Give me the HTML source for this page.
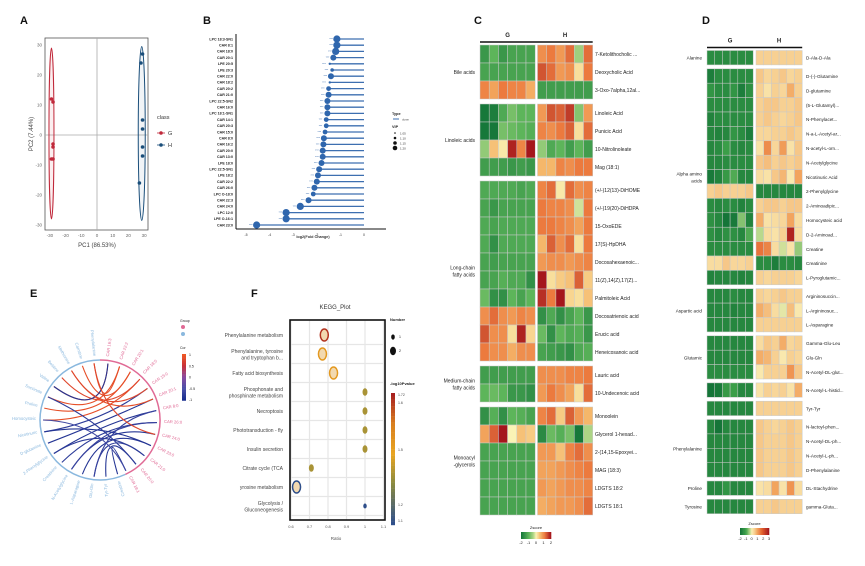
<!DOCTYPE html>
<html><head><meta charset="utf-8">
<style>
html,body{margin:0;padding:0;background:#fff;}
svg{display:block;font-family:"Liberation Sans",Arial,sans-serif;}
</style></head>
<body>
<svg id="fig" width="865" height="566" viewBox="0 0 865 566"></svg>
<script>
// ===== Panel A data =====
const pcaGx=[-29,-28,-28,-28,-29,-28];
const pcaGy=[12,11,-3,-4,-8,-8];
const pcaHx=[29,28,29,29,29,29,27];
const pcaHy=[27,24,5,2,-4,-7,-16];
const pcaTicks=[-30,-20,-10,0,10,20,30];
// ===== Panel B data =====
const fcNames=["LPC 18:3-SN1","CAR 8:1","CAR 18:0","CAR 20:1","LPE 20:5","LPE 20:3","CAR 22:0","CAR 18:2","CAR 20:2","CAR 21:0","LPC 22:5-SN2","CAR 16:0","LPC 18:1-SN1","CAR 14:1","CAR 20:3","CAR 15:0","CAR 8:0","CAR 16:2","CAR 20:0","CAR 13:0","LPE 18:0","LPC 22:5-SN1","LPE 18:2","CAR 22:2","CAR 26:0","LPC O-18:0","CAR 22:3","CAR 24:0","LPC 12:0","LPE O-16:1","CAR 23:0"];
const fcValues=[-1.15,-1.15,-1.2,-1.3,-1.45,-1.35,-1.4,-1.45,-1.5,-1.5,-1.55,-1.55,-1.55,-1.6,-1.6,-1.65,-1.7,-1.72,-1.75,-1.75,-1.8,-1.9,-1.95,-2.0,-2.1,-2.15,-2.35,-2.7,-3.3,-3.3,-4.55];
const fcVip=[1.2,1.2,1.2,1.15,1.0,1.05,1.15,1.0,1.1,1.15,1.15,1.15,1.15,1.1,1.1,1.1,1.15,1.15,1.15,1.15,1.15,1.15,1.15,1.15,1.15,1.1,1.15,1.2,1.2,1.2,1.2];
const fcTicks=[-5,-4,-3,-2,-1,0];
// ===== Panel C data =====
const cGroups=["Bile acids","Linoleic acids","Long-chain\nfatty acids","Medium-chain\nfatty acids","Monoacyl\n-glycerols"];
const cGroupSizes=[3,4,10,2,6];
const cNames=["7-Ketolithocholic ...","Deoxycholic Acid","3-Oxo-7alpha,12al...","Linoleic Acid","Punicic Acid","10-Nitrolinoleate","Mag (18:1)","(+/-)12(13)-DiHOME","(+/-)19(20)-DiHDPA","15-OxoEDE","17(S)-HpDHA","Docosahexaenoic...","11(Z),14(Z),17(Z)...","Palmitoleic Acid","Docosatrienoic acid","Erucic acid","Heneicosanoic acid","Lauric acid","10-Undecenoic acid","Monoolein","Glycerol 1-hexad...","2-(14,15-Epoxyei...","MAG (18:3)","LDGTS 18:2","LDGTS 18:1"];
const cValues=[
[-1.5,-1,-1.5,-1.3,-1.3,-1.3, 1,1.2,0.9,1.3,-0.5,1.3],
[-1.3,-1.3,-1.3,-1.3,-1.3,-1.3, 1.5,1.3,0.9,1,0.2,1.2],
[1.1,0.8,1.2,1.1,1.1,0.7, -1.4,-1.4,-1.4,-1.4,-1.4,-1.4],
[-2,-1.9,-1.2,-0.8,-1,-1, 0.9,1.5,1.4,1.7,-0.7,0.9],
[-2,-2.2,-0.8,-0.9,-1,-1.1, 1.1,1,1.2,1.4,0.2,1.3],
[-0.6,0.5,0.1,1.9,1.1,2.2, -0.6,-1.2,-1,-1.4,-1,-1.4],
[-1.4,-1.4,-1.4,-1.5,-1.4,-1.5, 0.6,0.6,1.1,1,1.2,1.2],
[-1.2,-1.2,-1.2,-1.2,-1.3,-1.2, 1.1,1.3,0.1,1.3,1,1.1],
[-1.3,-1.5,-1.3,-1.3,-1.3,-1.3, 1.2,1.1,1.1,1,-0.2,1.2],
[-1.2,-1.3,-1.2,-1.2,-1.2,-1.2, 1.2,1.2,1.1,1,0.8,1.2],
[-1.2,-1.6,-1.2,-1.2,-1.2,-1.2, 0.6,1.4,1,1.3,0.2,1.2],
[-1.3,-1.4,-1.3,-1.3,-1.3,-1.3, 0.9,1,1,0.9,1,1.1],
[-1.3,-1.3,-1.1,-1.2,-1.2,-1.6, 2,0.2,0.4,0.5,1.4,0.4],
[-0.9,-1.6,-1.6,-1.0,-1.3,-1.0, 1.8,1.2,2,0.3,0.2,0.5],
[1,1.3,1,0.9,1.1,1, -1.6,-1.2,-1.6,-1.3,-1,-1.5],
[1.5,1,1,0.2,1.9,0.3, -0.9,-1.6,-1,-1.2,-1.1,-1.5],
[1.2,1,1,0.7,1,1, -1.3,-1.4,-1.5,-1.6,-1.2,-1.1],
[-1.4,-1.4,-1.4,-1.4,-1.4,-1.4, 1,1,1,1.1,1.1,1.2],
[-1,-0.9,-1,-1.5,-1.5,-1.6, 0.9,1.2,1,0.8,0.2,1.3],
[-1.6,-1.1,-1.6,-1,-1.1,-1.3, 1.1,1.3,0.4,1.4,0.9,0.6],
[0.8,1.4,2,0,0.5,0.4, -1.7,-0.9,-1.1,-0.8,-2,-0.4],
[-1.3,-1.3,-1.3,-1.3,-1.3,-1.3, 0.9,0.9,0.5,1.1,1.3,1],
[-1.3,-1.3,-1.3,-1.3,-1.3,-1.3, 0.8,0.8,0.9,1,1.1,1.2],
[-1.3,-1.3,-1.3,-1.3,-1.3,-1.3, 0.9,0.8,0.9,1,1,1.1],
[-1.3,-1.3,-1.3,-1.3,-1.3,-1.3, 0.7,0.8,0.9,0.9,1,1.3]];
// ===== Panel D data =====
const dGroups=["Alanine","Alpha amino\nacids","Aspartic acid","Glutamic","","","Phenylalanine","Proline","Tyrosine"];
const dGroupSizes=[1,15,3,3,1,1,4,1,1];
const dNames=["D-Ala-D-Ala","D-(-)-Glutamine","D-glutamine","(5-L-Glutamyl)...","N-Phenylacet...","N-a-L-Acetyl-ar...","N-acetyl-L-orn...","N-Acetylglycine","Nicotinuric Acid","2-Phenylglycine","2-Aminoadipic...","Homocysteic acid","D-2-Aminoad...","Creatine","Creatinine","L-Pyroglutamic...","Argininosuccin...","L-Argininosuc...","L-Asparagine","Gamma-Glu-Leu","Glu-Gln","N-Acetyl-DL-glut...","N-Acetyl-L-histid...","Tyr-Tyr","N-lactoyl-phen...","N-Acetyl-DL-ph...","N-Acetyl-L-ph...","D-Phenylalanine","DL-Stachydrine","gamma-Gluta..."];
const dValues=[
[-1.5,-1.5,-1.5,-1.5,-1.5,-1.5, 0.5,0.5,0.5,0.5,0.5,0.5],
[-1.8,-1.5,-1.5,-1.5,-1.5,-1.5, 0.6,0.4,0.5,0.6,0.4,0.5],
[-1.3,-1.5,-1.5,-1.3,-1.8,-1.4, 0.5,0.2,0.5,0.4,0.9,0.5],
[-1.5,-1.5,-1.5,-1.5,-1.5,-1.5, 0.5,0.6,0.6,0.5,0.5,0.6],
[-1.7,-1.5,-1.5,-1.5,-1.5,-1.5, 0.5,0.6,0.5,0.4,0.5,0.6],
[-1.6,-1.7,-1.6,-1.3,-1.5,-1.8, 0.4,0.4,0.5,0.5,0.6,0.5],
[-1.6,-1.5,-1.1,-1.5,-1.6,-1.5, 0.2,1.3,0.4,1.1,0.2,0.6],
[-1.6,-1.6,-1.5,-1.5,-1.5,-1.5, 0.6,0.7,0.5,0.6,0.5,0.6],
[-1.9,-1.7,-1.2,-0.9,-1.6,-1.6, 0.3,0.2,0.6,0.8,0.1,1.0],
[0.5,0.6,0.5,0.5,0.5,0.6, -1.6,-1.6,-1.6,-1.6,-1.6,-1.6],
[-1.5,-1.6,-1.5,-1.5,-1.7,-1.5, 0.5,0.6,0.6,0.5,0.6,0.6],
[-1.4,-1.6,-2.1,-1.9,-0.6,-1.7, 0.9,0.2,0.3,0.4,1.0,0.3],
[-1.4,-1.6,-1.4,-1.4,-1.6,-0.9, -0.3,0.3,0.2,0.5,2.8,0.3],
[-1.5,-1.5,-1.5,-1.5,-1.5,-1.5, 1.6,1.4,0.3,-0.2,0.2,-0.5],
[0.3,0.3,0.6,0.4,0.4,0.5, -1.5,-1.5,-1.8,-1.5,-1.5,-1.6],
[-1.7,-1.6,-1.6,-1.6,-1.7,-1.6, 0.5,0.4,0.5,0.5,0.5,0.4],
[-1.6,-1.6,-1.6,-1.5,-1.6,-1.6, 0.5,0.4,0.5,0.6,0.5,0.5],
[-1.6,-1.6,-1.6,-1.7,-1.6,-1.6, 0.9,0.7,0.3,-0.1,0.7,0.1],
[-1.6,-1.6,-1.6,-1.6,-1.6,-1.6, 0.5,0.5,0.5,0.5,0.5,0.5],
[-1.6,-1.6,-1.6,-1.6,-1.6,-1.6, 0.3,0.6,0.5,0.9,0.4,0.5],
[-1.6,-1.6,-1.6,-1.6,-1.6,-1.6, 0.9,0.8,0.5,0.1,0.5,0.4],
[-1.5,-1.5,-1.5,-1.5,-1.5,-1.5, 0.1,0.5,0.5,0.5,1.2,0.6],
[-2.1,-1.9,-1.2,-1.1,-1.6,-1.6, 0.2,0.5,0.4,0.5,0.2,0.9],
[-1.6,-1.6,-1.6,-1.6,-1.6,-1.6, 0.5,0.5,0.5,0.5,0.5,0.5],
[-1.6,-2.0,-1.6,-1.6,-1.6,-1.6, 0.6,0.5,0.4,0.5,0.6,0.5],
[-1.6,-1.6,-1.6,-1.6,-1.6,-1.6, 0.6,0.5,0.5,0.5,0.6,0.5],
[-1.6,-1.6,-1.6,-1.6,-1.6,-1.6, 0.6,0.5,0.5,0.5,0.6,0.5],
[-1.6,-1.6,-1.6,-1.6,-1.6,-1.6, 0.6,0.5,0.5,0.5,0.6,0.5],
[-1.6,-1.6,-1.3,-1.6,-1.6,-1.6, 0.2,0.3,1.0,0.2,1.2,0.3],
[-1.6,-1.6,-1.6,-1.6,-1.6,-1.6, 0.5,0.5,0.6,0.5,0.5,0.5]];
// ===== Panel E data =====
const ePink=["CAR 16:3","CAR 22:2","CAR 20:1","CAR 18:0","CAR 15:0","CAR 20:1","CAR 8:0","CAR 26:0","CAR 24:0","CAR 23:0","CAR 21:0","CAR 20:0","CAR 18:1"];
const eBlue=["Creatine","Tyr-Tyr","Glu-Gln","L-Asparagine","N-Acetylglycine","Creatinine","2-Phenylglycine","D-glutamine","Nicotinuric","Homocysteic","Proline","Succinate","Valine","Betaine","Methionine","Carnitine","Phenylalanine"];
const eLinkFrom=[0,1,2,3,4,5,6,7,8,9,10,11,12,13,14,15,16,4,6,9,12,14,2,8,11,16];
const eLinkTo=[12,11,10,9,8,7,6,5,4,3,2,1,0,3,5,2,1,7,10,12,0,4,6,9,11,8];
const eLinkCor=[-0.9,-0.9,-0.8,-0.9,-0.9,-0.8,-0.9,-0.9,-0.8,0.9,0.9,0.9,0.9,0.8,0.9,0.9,0.9,-0.7,-0.8,-0.6,-0.9,0.8,-0.7,-0.9,-0.8,0.8];
// ===== Panel F data =====
const keggNames=["Phenylalanine metabolism","Phenylalanine, tyrosine\nand tryptophan b...","Fatty acid biosynthesis","Phosphonate and\nphosphinate metabolism","Necroptosis","Phototransduction - fly","Insulin secretion","Citrate cycle (TCA","yrosine metabolism","Glycolysis /\nGluconeogenesis"];
const keggRatio=[0.78,0.77,0.83,1.0,1.0,1.0,1.0,0.71,0.63,1.0];
const keggLogP=[1.72,1.5,1.5,1.35,1.35,1.35,1.35,1.35,1.1,1.1];
const keggNum=[2,2,2,1,1,1,1,1,2,0.5];
const keggTicks=[0.6,0.7,0.8,0.9,1.0,1.1];
const keggTickLabels=["0.6","0.7","0.8","0.9","1","1.1"];

const NS="http://www.w3.org/2000/svg";
const svg=document.getElementById('fig');
function mk(tag,at,parent){const e=document.createElementNS(NS,tag);for(const k in at)e.setAttribute(k,at[k]);(parent||svg).appendChild(e);return e;}
function txt(x,y,s,sz,at,parent){const e=mk('text',Object.assign({x:x,y:y,'font-size':sz,fill:'#222'},at||{}),parent);e.textContent=s;return e;}
function grp(name){const g=mk('g',{});return g;}
function lerp(a,b,t){return a+(b-a)*t;}
function hex(h){return [parseInt(h.substr(1,2),16),parseInt(h.substr(3,2),16),parseInt(h.substr(5,2),16)];}
function scaleColor(stops,v){
  if(v<=stops[0][0])return stops[0][1];
  for(let i=1;i<stops.length;i++){if(v<=stops[i][0]){const a=hex(stops[i-1][1]),b=hex(stops[i][1]);const t=(v-stops[i-1][0])/(stops[i][0]-stops[i-1][0]);return 'rgb('+[0,1,2].map(k=>Math.round(lerp(a[k],b[k],t))).join(',')+')';}}
  return stops[stops.length-1][1];
}
// panel letters
[["A",20,24],["B",203,24],["C",474,24],["D",702,24],["E",30,297],["F",251,297]].forEach(p=>{
  const t=txt(p[1],p[2],p[0],11,{'font-weight':'bold',fill:'#111'});
  
  
});

// ===== A: PCA =====
(function(){
  const g=grp('pca-panel');
  const xA=v=>97+v*1.57, yA=v=>135-v*3.0;
  const frame=mk('rect',{x:45,y:38,width:103,height:192,fill:'none',stroke:'#555','stroke-width':0.8},g);
  
  
  mk('line',{x1:xA(0),x2:xA(0),y1:38,y2:230,stroke:'#aaa','stroke-width':0.8},g);
  mk('line',{x1:45,x2:148,y1:yA(0),y2:yA(0),stroke:'#aaa','stroke-width':0.8},g);
  pcaTicks.forEach(v=>{
    const t=txt(xA(v),237,String(v),4.5,{'text-anchor':'middle',fill:'#666'},g);
    
    
    const t2=txt(42,yA(v)+1.5,String(v),4.5,{'text-anchor':'end',fill:'#666'},g);
    
    
  });
  const ex=txt(97,247,'PC1 (86.53%)',6,{'text-anchor':'middle',fill:'#444'},g);
  
  
  const ey=txt(0,0,'PC2 (7.44%)',6,{'text-anchor':'middle',fill:'#444',transform:'translate(33,134) rotate(-90)'},g);
  
  
  const eg=mk('ellipse',{cx:xA(-29),cy:yA(0.5),rx:2.5,ry:yA(-28)-yA(0.5),fill:'rgba(200,40,50,0.08)',stroke:'#c0283a','stroke-width':1},g);
  
  
  const eh=mk('ellipse',{cx:xA(28.5),cy:yA(0.5),rx:3.5,ry:yA(-28.5)-yA(0.5),fill:'rgba(20,70,120,0.06)',stroke:'#1a4e7a','stroke-width':1},g);
  
  
  pcaGx.forEach((v,i)=>{const c=mk('circle',{cx:xA(v),cy:yA(pcaGy[i]),r:1.8,fill:'#c0283a'},g);
    
    });
  pcaHx.forEach((v,i)=>{const c=mk('circle',{cx:xA(v),cy:yA(pcaHy[i]),r:1.8,fill:'#1a4e7a'},g);
    
    });
  const lt=txt(157,119,'class',5.5,{fill:'#333'},g);
  
  
  [['G','#c0283a',133],['H','#1a4e7a',145]].forEach(l=>{
    const c=mk('circle',{cx:161,cy:l[2],r:1.8,fill:l[1]},g);
    
    
    mk('line',{x1:157,x2:165,y1:l[2],y2:l[2],stroke:l[1],'stroke-width':0.8},g);
    txt(168,l[2]+2,l[0],5.5,{fill:'#333'},g);
  });
})();

// ===== B: lollipop =====
(function(){
  const g=grp('fold-change-panel');
  const xB=v=>364+v*23.6, yB=i=>39+i*6.2;
  const ax=mk('line',{x1:236,x2:236,y1:34,y2:229,stroke:'#111','stroke-width':1},g);
  
  
  const bx=mk('line',{x1:236,x2:386,y1:229,y2:229,stroke:'#111','stroke-width':1},g);
  
  
  fcTicks.forEach(v=>{const t=txt(xB(v),236,String(v),3.5,{'text-anchor':'middle',fill:'#333'},g);
    
    });
  const xt=txt(313,238,'log2(Fold Change)',3.8,{'text-anchor':'middle','font-weight':'bold',fill:'#333'},g);
  
  
  fcNames.forEach((n,i)=>{
    const y=yB(i), v=fcValues[i];
    const l=mk('line',{x1:xB(v),x2:xB(0),y1:y,y2:y,stroke:'#3d6fb0','stroke-width':1.3},g);
    
    
    const c=mk('circle',{cx:xB(v),cy:y,r:1.2+(fcVip[i]-1)*12,fill:'#2f66ad'},g);
    
    
    txt(xB(v)-4,y+1,'***',3,{'text-anchor':'end',fill:'#3d6fb0'},g);
    const t=txt(233,y+1.3,n,3.6,{'text-anchor':'end','font-weight':'bold',fill:'#222'},g);
    
    
  });
  txt(392,115,'Type',3.8,{'font-weight':'bold'},g);
  mk('line',{x1:393,x2:399,y1:119,y2:119,stroke:'#3d6fb0','stroke-width':1},g);
  txt(402,120.5,'down',3,{fill:'#555'},g);
  txt(392,128,'VIP',3.8,{'font-weight':'bold'},g);
  [1.05,1.1,1.15,1.2].forEach((v,i)=>{const c=mk('circle',{cx:395,cy:133+i*5,r:0.8+i*0.5,fill:'#111'},g);
    
    
    txt(400,134.5+i*5,v.toFixed(2),3,{fill:'#333'},g);});
})();

// ===== heatmap helper =====
function heatmap(opt){
  const g=grp(opt.name);
  let y=opt.top, row=0;
  opt.groups.forEach((gn,gi)=>{
    const n=opt.sizes[gi], y0=y;
    for(let r=0;r<n;r++){
      const vals=opt.values[row];
      vals.forEach((v,c)=>{
        const x=c<6?opt.gx+c*opt.cw:opt.hx+(c-6)*opt.cw;
        const cell=mk('rect',{x:x,y:y,width:opt.cw,height:opt.rh,fill:scaleColor(opt.stops,v),stroke:'#c9c9c9','stroke-width':0.5},g);
        
        
      });
      const t=txt(opt.labelX,y+opt.rh/2+2,opt.names[row],opt.fs,{fill:'#222'},g);
      
      
      y+=opt.rh; row++;
    }
    if(gn){
      const lines=gn.split('\n'); const mid=(y0+y)/2-(lines.length-1)*3.5;
      lines.forEach((ln,k)=>{const t=txt(opt.groupX,mid+k*7+2,ln,opt.fs,{'text-anchor':opt.groupAnchor,fill:'#222'},g);
        
        });
    }
    y+=opt.gap;
  });
  const hl=mk('line',{x1:opt.gx,x2:opt.hx+6*opt.cw,y1:opt.top-3,y2:opt.top-3,stroke:'#111','stroke-width':1.5},g);
  
  
  const gl=txt(opt.gx+3*opt.cw,opt.top-8,'G',6,{'text-anchor':'middle','font-weight':'bold'},g);
  
  
  const hh=txt(opt.hx+3*opt.cw,opt.top-8,'H',6,{'text-anchor':'middle','font-weight':'bold'},g);
  
  
  // colorbar
  const cb=opt.cb; const steps=40;
  for(let i=0;i<steps;i++){const v=cb.min+(cb.max-cb.min)*i/(steps-1);
    mk('rect',{x:cb.x+i*cb.w/steps,y:cb.y,width:cb.w/steps+0.3,height:7,fill:scaleColor(opt.stops,v)},g);}
  const ct=txt(cb.x+cb.w/2,cb.y-3,'Zscore',4,{'text-anchor':'middle'},g);
  
  
  cb.ticks.forEach(v=>{txt(cb.x+(v-cb.min)/(cb.max-cb.min)*cb.w,cb.y+12,String(v),4,{'text-anchor':'middle'},g);});
}
heatmap({name:'heatmap-c',groups:cGroups,sizes:cGroupSizes,names:cNames,values:cValues,top:45,rh:18,gap:5,gx:480,hx:537.5,cw:9.2,labelX:595,fs:5,groupX:475,groupAnchor:'end',
  stops:[[-2,'#16783a'],[-1,'#5db55a'],[-0.3,'#b9d98c'],[0,'#faf3b5'],[0.6,'#f5b76a'],[1.2,'#ec7a3e'],[2,'#a5161c']],
  cb:{x:521,y:532,w:30,min:-2,max:2,ticks:[-2,-1,0,1,2]}});
heatmap({name:'heatmap-d',groups:dGroups,sizes:dGroupSizes,names:dNames,values:dValues,top:50.5,rh:14.4,gap:3.9,gx:707,hx:756,cw:7.7,labelX:806,fs:4.6,groupX:702,groupAnchor:'end',
  stops:[[-2,'#157538'],[-1,'#3fa24a'],[-0.3,'#b9d98c'],[0,'#faeeb5'],[0.5,'#f7d092'],[1,'#f2a45e'],[1.8,'#e4632f'],[3,'#a5161c']],
  cb:{x:740,y:528,w:29,min:-2,max:3,ticks:[-2,-1,0,1,2,3]}});

// ===== E: chord =====
(function(){
  const g=grp('correlation-chord-panel');
  const cx=100, cy=420, R=60;
  const pt=(a,r)=>[cx+r*Math.sin(a*Math.PI/180), cy-r*Math.cos(a*Math.PI/180)];
  function arc(a0,a1,col){const p0=pt(a0,R),p1=pt(a1,R);
    return mk('path',{d:`M${p0[0]},${p0[1]} A${R},${R} 0 ${(a1-a0)>180?1:0} 1 ${p1[0]},${p1[1]}`,fill:'none',stroke:col,'stroke-width':1.5},g);}
  const pa=arc(0,155,'#e06a95');
  
  
  const ba=arc(155,360,'#8ab8de');
  
  
  const pinkAng=i=>8+i*(145/(ePink.length-1));
  const blueAng=i=>162+i*(192/(eBlue.length-1));
  const corCol=v=>scaleColor([[-1,'#1a2f8f'],[-0.5,'#4a4fa8'],[0,'#8a4aa0'],[0.5,'#c8323a'],[1,'#ee5522']],v);
  eLinkFrom.forEach((b,i)=>{
    const p0=pt(blueAng(b),R-3), p1=pt(pinkAng(eLinkTo[i]),R-3);
    const l=mk('path',{d:`M${p0[0]},${p0[1]} Q${cx+3},${cy+2} ${p1[0]},${p1[1]}`,fill:'none',stroke:corCol(eLinkCor[i]),'stroke-width':1.1},g);
    
    
  });
  ePink.forEach((n,i)=>{const a=pinkAng(i),p=pt(a,R+4);
    const t=txt(0,0,n,4.2,{fill:'#e06a95',transform:`translate(${p[0]},${p[1]}) rotate(${a-90})`},g);
    
    });
  eBlue.forEach((n,i)=>{const a=blueAng(i),p=pt(a,R+4);
    const t=txt(0,0,n,4.2,{fill:'#8ab8de','text-anchor':'end',transform:`translate(${p[0]},${p[1]}) rotate(${a+90})`},g);
    
    });
  txt(180,322,'Group',3.5,{},g);
  const l1=mk('circle',{cx:183,cy:327,r:2,fill:'#e06a95'},g);
  
  
  const l2=mk('circle',{cx:183,cy:334,r:2,fill:'#8ab8de'},g);
  
  
  txt(180,349,'Cor',3.5,{},g);
  for(let i=0;i<30;i++){const v=1-2*i/29;mk('rect',{x:182,y:354+i*1.55,width:4,height:1.8,fill:corCol(v)},g);}
  [1,0.5,0,-0.5,-1].forEach((v,i)=>txt(189,356+i*11.3,String(v),3.5,{},g));
})();

// ===== F: KEGG =====
(function(){
  const g=grp('kegg-panel');
  const xF=v=>291+(v-0.6)*185, yF=i=>335+i*19;
  const title=txt(335,309,'KEGG_Plot',6,{'text-anchor':'middle',fill:'#333'},g);
  
  
  keggTicks.forEach(v=>{const l=mk('line',{x1:xF(v),x2:xF(v),y1:320,y2:520,stroke:'#e6e6e6','stroke-width':1.2},g);});
  keggNames.forEach((n,i)=>{mk('line',{x1:290,x2:385,y1:yF(i)+9.5,y2:yF(i)+9.5,stroke:'#e6e6e6','stroke-width':1.2},g);});
  const fr=mk('rect',{x:290,y:320,width:95,height:200,fill:'none',stroke:'#111','stroke-width':1.6},g);
  
  
  const pc=v=>scaleColor([[1.1,'#2f4f8a'],[1.3,'#8a8a40'],[1.45,'#e8a522'],[1.6,'#d9801f'],[1.75,'#a8201f']],v);
  keggNames.forEach((n,i)=>{
    const lines=n.split('\n');
    lines.forEach((ln,k)=>{const t=txt(283,yF(i)+2-(lines.length-1)*3+k*6.5,ln,5,{'text-anchor':'end',fill:'#444'},g);
      
      });
    const s=keggNum[i];
    const e=mk('ellipse',{cx:xF(keggRatio[i]),cy:yF(i),rx:1+s*1.5,ry:1.4+s*2.3,fill:s>1?'#f2d9b0':pc(keggLogP[i]),stroke:pc(keggLogP[i]),'stroke-width':s>1?1.5:0},g);
    
    
  });
  keggTicks.forEach((v,i)=>{const t=txt(xF(v),528,keggTickLabels[i],4,{'text-anchor':'middle',fill:'#555'},g);
    
    });
  const xt=txt(336,540,'Ratio',4.5,{'text-anchor':'middle',fill:'#555'},g);
  
  
  txt(390,321,'Number',4,{'font-weight':'bold'},g);
  mk('ellipse',{cx:393,cy:337,rx:1.8,ry:2.6,fill:'#111'},g);
  mk('ellipse',{cx:393,cy:351,rx:3,ry:4.2,fill:'#111'},g);
  txt(399,338,'1',3.5,{},g); txt(399,352,'2',3.5,{},g);
  txt(390,385,'-log10Pvalue',4,{'font-weight':'bold'},g);
  for(let i=0;i<40;i++){const v=1.75-(0.65*i/39);mk('rect',{x:391,y:393+i*3.3,width:4,height:3.5,fill:pc(v)},g);}
  [['1.72',396],['1.6',404],['1.5',451],['1.2',506],['1.1',522]].forEach(t=>txt(398,t[1],t[0],3.5,{fill:'#444'},g));
})();
</script>
</body></html>
